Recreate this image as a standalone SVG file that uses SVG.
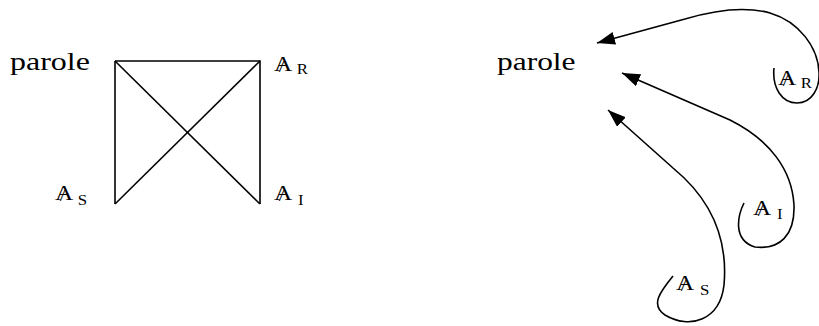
<svg xmlns="http://www.w3.org/2000/svg" width="819" height="326" viewBox="0 0 819 326" font-family="'Liberation Serif', 'Times New Roman', 'DejaVu Serif', serif">
<style>
text{font-family:"Liberation Serif","Times New Roman","DejaVu Serif",serif;fill:#000}
.w{font-size:26px}
.a{font-size:21px}
.sl{font-size:17px}
.s{font-size:14px}
.c{fill:none;stroke:#000;stroke-width:1.6}
</style>
<defs>
<marker id="ah" markerUnits="userSpaceOnUse" markerWidth="20" markerHeight="14" refX="18" refY="6.5" orient="auto">
<path d="M0,0 L18,6.5 L0,13 z" fill="#000"/>
</marker>
</defs>
<g id="connectors">
<path class="c" d="M115 61 H260 V204"/>
<path class="c" d="M115 61 V204"/>
<path class="c" d="M115 61 L260 204"/>
<path class="c" d="M115 204 L260 61"/>
<path class="c" marker-end="url(#ah)" d="M774 68 C772 88,782 103,797 103 C812 103,820 88,819 72 C818 48,800 22,770 13 C745 6,715 10,685 19 L597 43"/>
<path class="c" marker-end="url(#ah)" d="M744 203 C738 215,732 240,755 247 C780 250,795 235,794 205 C792 170,770 140,730 120 L622 73"/>
<path class="c" marker-end="url(#ah)" d="M673 276 C660 292,650 305,665 315 C690 330,720 320,724 285 C728 240,712 200,673 168 L608 110"/>
</g>
<g id="parole-left" transform="translate(10,70) scale(1.23,1)"><text class="w" x="0" y="0">parole</text></g>
<g id="AR-left" transform="translate(274,71) scale(1.2,1)"><text><tspan class="a" x="0" y="0">A</tspan><tspan class="sl" x="4" y="1">/</tspan><tspan class="s" x="19" y="3">R</tspan></text></g>
<g id="AS-left" transform="translate(55,200) scale(1.2,1)"><text><tspan class="a" x="0" y="0">A</tspan><tspan class="sl" x="4" y="1">/</tspan><tspan class="s" x="19" y="5">S</tspan></text></g>
<g id="AI-left" transform="translate(274,200) scale(1.2,1)"><text><tspan class="a" x="0" y="0">A</tspan><tspan class="sl" x="4" y="1">/</tspan><tspan class="s" x="20" y="5">I</tspan></text></g>
<g id="parole-right" transform="translate(497,70) scale(1.21,1)"><text class="w" x="0" y="0">parole</text></g>
<g id="AR-right" transform="translate(778,85) scale(1.2,1)"><text><tspan class="a" x="0" y="0">A</tspan><tspan class="sl" x="4" y="1">/</tspan><tspan class="s" x="19" y="3">R</tspan></text></g>
<g id="AI-right" transform="translate(753,215) scale(1.2,1)"><text><tspan class="a" x="0" y="0">A</tspan><tspan class="sl" x="4" y="1">/</tspan><tspan class="s" x="20" y="4">I</tspan></text></g>
<g id="AS-right" transform="translate(676,290) scale(1.2,1)"><text><tspan class="a" x="0" y="0">A</tspan><tspan class="sl" x="4" y="1">/</tspan><tspan class="s" x="20" y="5">S</tspan></text></g>
</svg>
